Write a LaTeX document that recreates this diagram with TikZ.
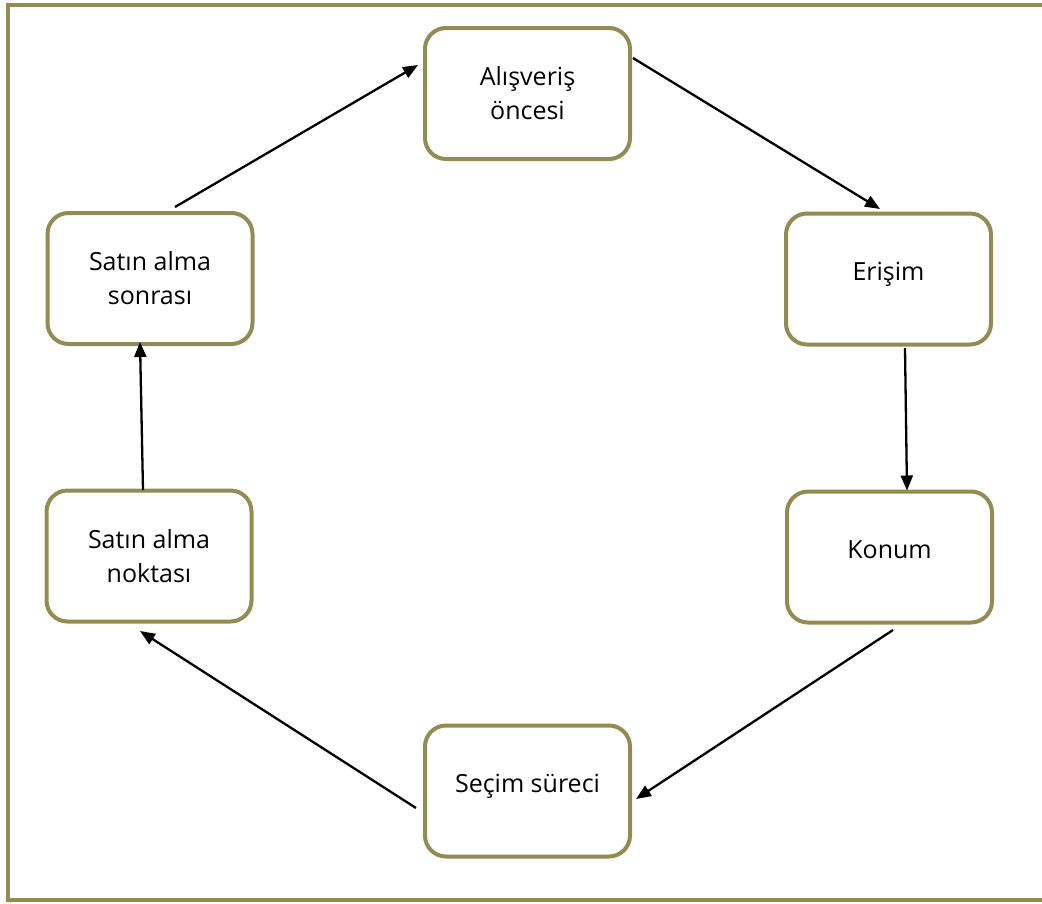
\documentclass[tikz,border=0pt]{standalone}
\usepackage{fontspec}
\setmainfont{Open Sans}
\usetikzlibrary{arrows.meta}
\definecolor{frameolive}{HTML}{948A54}
\tikzset{
  stagebox/.style={draw=frameolive, line width=4pt, fill=white, rounded corners=21pt,
    minimum width=205pt, minimum height=131pt, inner sep=0pt, outer sep=0pt,
    align=center, font=\fontsize{25}{34}\selectfont},
  oneline/.style={text height=13pt, text depth=11pt},
  flow/.style={line width=2.3pt, black, -{Triangle[length=15pt,width=12pt]}},
}
\begin{document}
\begin{tikzpicture}[x=1pt, y=-1pt]
  \useasboundingbox (0,0) rectangle (1042,903);
  % outer frame (right side runs past the edge)
  \draw[frameolive, line width=4pt] (1050,4.5) -- (7.5,4.5) -- (7.5,900) -- (1050,900);

  % stages of the cycle
  \node[stagebox] (A) at (527.5,93.5) {Alışveriş\\öncesi};
  \node[stagebox, oneline] (E) at (888.5,279) {Erişim};
  \node[stagebox, oneline] (K) at (889.5,557) {Konum};
  \node[stagebox, oneline] (S) at (527.5,791) {Seçim süreci};
  \node[stagebox] (N) at (149,556) {Satın alma\\noktası};
  \node[stagebox] (P) at (150,278.5) {Satın alma\\sonrası};

  % connectors
  \draw[flow] ([shift={(25pt,6pt)}]P.north) -- ([shift={(-7pt,28.5pt)}]A.west);
  \draw[flow] ([shift={(3pt,35.5pt)}]A.east) -- ([shift={(-8.5pt,4.5pt)}]E.north);
  \draw[flow] ([shift={(16.5pt,-3.5pt)}]E.south) -- ([shift={(17.5pt,1pt)}]K.north);
  \draw[flow] ([shift={(3.5pt,-7.5pt)}]K.south) -- ([shift={(6pt,-8pt)}]S.east);
  \draw[flow] ([shift={(-9pt,-17pt)}]S.west) -- ([shift={(-9pt,-9.5pt)}]N.south);
  \draw[flow] ([shift={(-6pt,0.5pt)}]N.north) -- ([shift={(-10pt,2pt)}]P.south);
\end{tikzpicture}
\end{document}
